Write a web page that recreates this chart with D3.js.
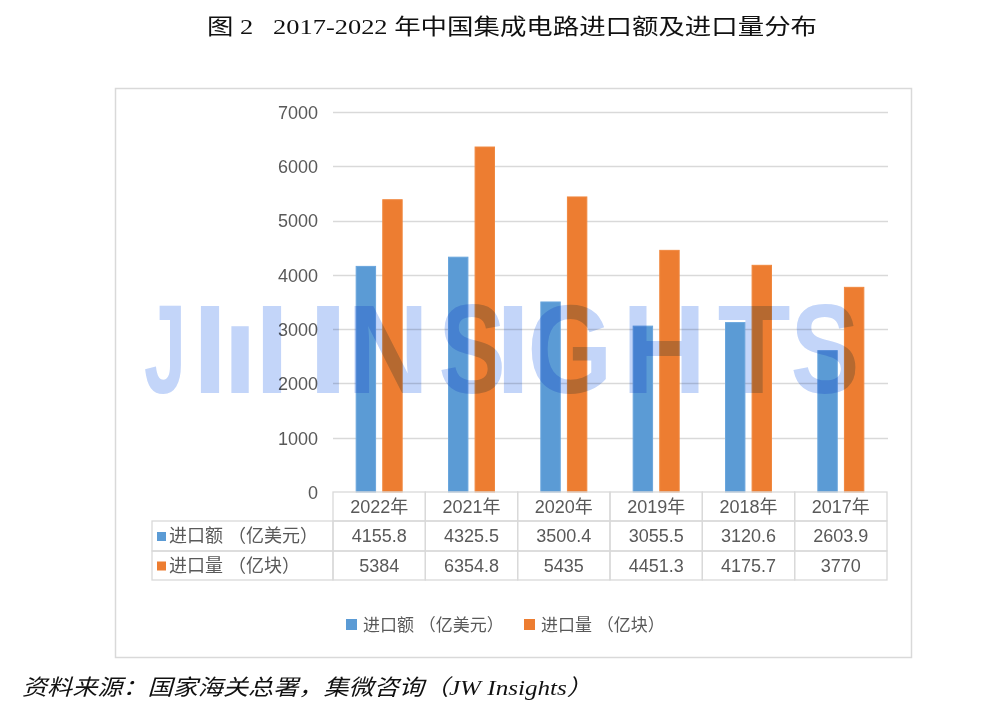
<!DOCTYPE html>
<html><head><meta charset="utf-8">
<script src="https://cdn.jsdelivr.net/npm/d3@7"></script>
<style>
body{margin:0;background:#fff;}
svg{display:block;}
</style></head>
<body>
<svg id="chart" width="1000" height="715"></svg>
<script>
const categories = ["2022年","2021年","2020年","2019年","2018年","2017年"];
const seriesNames = ["进口额 （亿美元）","进口量 （亿块）"];
const importValue = [4155.8, 4325.5, 3500.4, 3055.5, 3120.6, 2603.9];
const importVolume = [5384, 6354.8, 5435, 4451.3, 4175.7, 3770];
const valueLabels = ["4155.8","4325.5","3500.4","3055.5","3120.6","2603.9"];
const volumeLabels = ["5384","6354.8","5435","4451.3","4175.7","3770"];
const yTicks = [0,1000,2000,3000,4000,5000,6000,7000];
const colors = ["#5b9bd5","#ed7d31"];
const strokes = ["#6aa6dd","#f0883f"];
// watermark letters: glyph, centre, horizontal squeeze
const wmChars = ["J","I","ı","I","I","N","S","I","G","H","T","S"];
const wmCentres = [165,210,240,272,328,388,472,513,570,664,754,825];
const wmSqueeze = [0.6,1,1,1,1.2,0.9,0.8,1,0.87,0.93,0.95,0.82];

const svg = d3.select("#chart");
const sans = "'Liberation Sans', 'Noto Sans CJK SC', sans-serif";
const serif = "'Liberation Serif', 'Noto Sans CJK SC', serif";

// title
svg.append("text").attr("x",512).attr("y",34).attr("text-anchor","middle")
  .attr("font-family",serif).attr("font-size",22).attr("fill","#111")
  .attr("textLength",610).attr("lengthAdjust","spacingAndGlyphs")
  .text("图 2\u00a0\u00a0\u00a02017-2022 年中国集成电路进口额及进口量分布");

// frame
svg.append("rect").attr("x",115.5).attr("y",88.5).attr("width",796).attr("height",569)
  .attr("fill","#fff").attr("stroke","#d9d9d9").attr("stroke-width",1.5);

const x = d3.scaleBand().domain(categories).range([333,887]);
const y = d3.scaleLinear().domain([0,7000]).range([492,112]);

// gridlines
svg.append("g").selectAll("line").data(yTicks.filter(d=>d>0)).join("line")
  .attr("x1",333).attr("x2",888).attr("y1",d=>Math.round(y(d))+0.5).attr("y2",d=>Math.round(y(d))+0.5)
  .attr("stroke","#d9d9d9").attr("stroke-width",1.3);

// y axis labels
const yAxis = d3.axisLeft(y).tickValues(yTicks).tickFormat(d3.format("d")).tickSize(0).tickPadding(0);
const gy = svg.append("g").attr("transform","translate(318,0)").call(yAxis);
gy.select(".domain").remove();
gy.selectAll("text").attr("font-family",sans).attr("font-size",18).attr("fill","#595959").attr("dy","0.35em");

// bars
const xs = d3.scaleBand().domain([0,1]).range([0,46]).paddingInner(0.27);
const barG = svg.append("g");
[importValue, importVolume].forEach((vals,si)=>{
  barG.append("g").selectAll("rect").data(vals).join("rect")
    .attr("x",(d,i)=>x(categories[i]) + x.bandwidth()/2 - 23 + xs(si))
    .attr("width",xs.bandwidth())
    .attr("y",d=>y(d)).attr("height",d=>y(0)-y(d))
    .attr("fill",colors[si]).attr("stroke",strokes[si]).attr("stroke-width",1);
});

// watermark
const wm = svg.append("g").style("mix-blend-mode","multiply");
wmChars.forEach((ch,i)=>{
  wm.append("g").attr("transform",`translate(${wmCentres[i]},393) scale(${wmSqueeze[i]},1)`)
    .append("text").attr("x",0).attr("y",0).attr("text-anchor","middle")
    .attr("font-family","'Liberation Sans',sans-serif").attr("font-weight","bold")
    .attr("font-size",126).attr("fill","#c3d5f9")
    .style("mix-blend-mode","multiply")
    .text(ch);
});

// table
const tg = svg.append("g");
const rowY = [492,521,551,580];
const bc = "#d9d9d9";
categories.forEach((c,i)=>{
  tg.append("rect").attr("x",x(c)).attr("y",rowY[0]).attr("width",x.bandwidth()).attr("height",rowY[1]-rowY[0])
    .attr("fill","none").attr("stroke",bc).attr("stroke-width",1.3);
  tg.append("text").attr("x",x(c)+x.bandwidth()/2).attr("y",(rowY[0]+rowY[1])/2).attr("dy","0.36em")
    .attr("text-anchor","middle").attr("font-family",sans).attr("font-size",18).attr("fill","#595959").text(c);
});
const rows = [valueLabels, volumeLabels];
rows.forEach((labs,ri)=>{
  const y0 = rowY[ri+1], y1 = rowY[ri+2];
  tg.append("rect").attr("x",152).attr("y",y0).attr("width",333-152).attr("height",y1-y0)
    .attr("fill","none").attr("stroke",bc).attr("stroke-width",1.3);
  tg.append("rect").attr("x",157).attr("y",(y0+y1)/2-4).attr("width",9).attr("height",9).attr("fill",colors[ri]);
  tg.append("text").attr("x",169).attr("y",(y0+y1)/2).attr("dy","0.36em")
    .attr("font-family",sans).attr("font-size",18).attr("fill","#595959").text(seriesNames[ri]);
  labs.forEach((t,i)=>{
    const c = categories[i];
    tg.append("rect").attr("x",x(c)).attr("y",y0).attr("width",x.bandwidth()).attr("height",y1-y0)
      .attr("fill","none").attr("stroke",bc).attr("stroke-width",1.3);
    tg.append("text").attr("x",x(c)+x.bandwidth()/2).attr("y",(y0+y1)/2).attr("dy","0.36em")
      .attr("text-anchor","middle").attr("font-family",sans).attr("font-size",18).attr("fill","#595959").text(t);
  });
});

// legend
const legX = [346,524];
seriesNames.forEach((n,i)=>{
  svg.append("rect").attr("x",legX[i]).attr("y",619).attr("width",11).attr("height",11).attr("fill",colors[i]);
  svg.append("text").attr("x",legX[i]+17).attr("y",625).attr("dy","0.36em")
    .attr("font-family",sans).attr("font-size",17).attr("fill","#595959").text(n);
});

// source
svg.append("text").attr("x",22).attr("y",695)
  .attr("font-family",serif).attr("font-style","italic").attr("font-size",22).attr("fill","#111")
  .attr("textLength",570).attr("lengthAdjust","spacingAndGlyphs")
  .text("资料来源：国家海关总署，集微咨询（JW Insights）");
</script>
</body></html>
